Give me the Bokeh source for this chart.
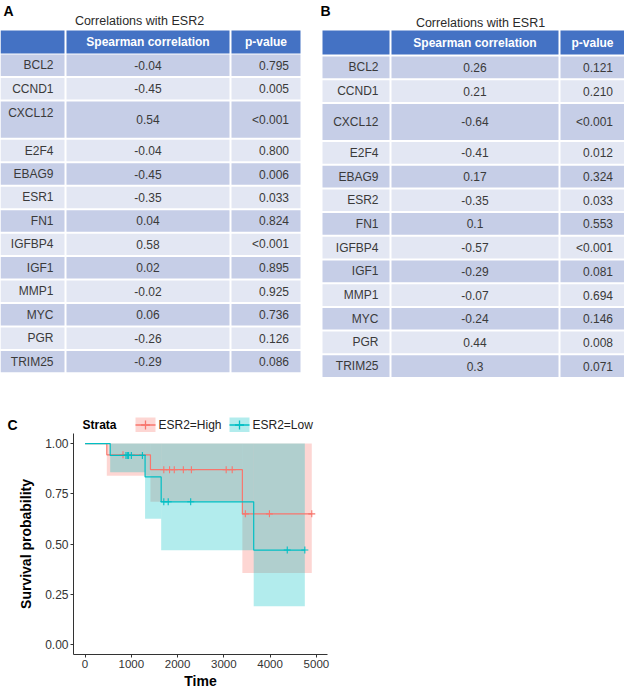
from bokeh.plotting import figure
from bokeh.models import Range1d, FixedTicker, PrintfTickFormatter, ColumnDataSource
from bokeh.core.properties import value
from bokeh.embed import file_html
from bokeh.resources import INLINE

FONT = "Liberation Sans"

# ---------------- data ----------------
title_a = "Correlations with ESR2"
genes_a = ["BCL2", "CCND1", "CXCL12", "E2F4", "EBAG9", "ESR1", "FN1",
           "IGFBP4", "IGF1", "MMP1", "MYC", "PGR", "TRIM25"]
rho_a = [-0.04, -0.45, 0.54, -0.04, -0.45, -0.35, 0.04, 0.58, 0.02, -0.02, 0.06, -0.26, -0.29]
pval_a = ["0.795", "0.005", "<0.001", "0.800", "0.006", "0.033", "0.824",
          "<0.001", "0.895", "0.925", "0.736", "0.126", "0.086"]

title_b = "Correlations with ESR1"
genes_b = ["BCL2", "CCND1", "CXCL12", "E2F4", "EBAG9", "ESR2", "FN1",
           "IGFBP4", "IGF1", "MMP1", "MYC", "PGR", "TRIM25"]
rho_b = [0.26, 0.21, -0.64, -0.41, 0.17, -0.35, 0.1, -0.57, -0.29, -0.07, -0.24, 0.44, 0.3]
pval_b = ["0.121", "0.210", "<0.001", "0.012", "0.324", "0.033", "0.553",
          "<0.001", "0.081", "0.694", "0.146", "0.008", "0.071"]

col_headers = ["", "Spearman correlation", "p-value"]

# Kaplan-Meier (ESR2 strata)
strata_labels = ["ESR2=High", "ESR2=Low"]
high_times = [0, 470, 1413, 3400, 4900]
high_surv = [1.0, 0.944, 0.870, 0.650]
high_lower = [1.0, 0.840, 0.710, 0.356]
high_upper = [1.0, 1.0, 1.0, 1.0]
high_censor = [820, 1702, 1826, 1928, 2124, 2298, 3050, 3180, 3465, 3985, 4900]

low_times = [0, 543, 1297, 1645, 3645, 4750]
low_surv = [1.0, 0.941, 0.834, 0.710, 0.470]
low_lower = [1.0, 0.857, 0.626, 0.469, 0.190]
low_upper = [1.0, 1.0, 1.0, 1.0, 1.0]
low_censor = [884, 913, 941, 1000, 1239, 1702, 1797, 2283, 4370, 4750]

x_ticks = [0, 1000, 2000, 3000, 4000, 5000]
y_ticks = [0.0, 0.25, 0.5, 0.75, 1.0]

# ---------------- styles ----------------
HEAD = "#4472C4"
DARK = "#C6CEE7"
LIGHT = "#E3E7F3"
TXT = "#3A3A3A"
RED = "#F8766D"
TEAL = "#00BFC4"

TOP_H = 432  # height of the tables panel (page pixels)

# ---------------- tables figure (coords = page pixels) ----------------
pt = figure(width=624, height=TOP_H, x_range=Range1d(0, 624), y_range=Range1d(TOP_H, 0),
            x_axis_type=None, y_axis_type=None, toolbar_location=None,
            output_backend="svg", min_border=0, outline_line_color=None)
pt.background_fill_color = "white"
pt.border_fill_color = "white"

TALL_ROWS = {"CXCL12"}


def draw_table(p, cols, head, top0, pitch, tall_extra, genes, rho, pval,
               title, title_pos, tall_label_top):
    gap = 2
    h = pitch - gap
    p.quad(left=[c[0] for c in cols], right=[c[1] for c in cols],
           top=[head[0]] * 3, bottom=[head[1]] * 3,
           fill_color=HEAD, line_color=None)
    hy = (head[0] + head[1]) / 2
    p.text(x=[(cols[1][0] + cols[1][1]) / 2, (cols[2][0] + cols[2][1]) / 2],
           y=[hy, hy], text=col_headers[1:], text_color="white",
           text_font=value(FONT), text_font_style="bold", text_font_size="12px",
           text_align="center", text_baseline="middle")
    L, R, T, B, C = [], [], [], [], []
    gx, gy, rx, ry, px, py = [], [], [], [], [], []
    y = top0
    for i, g in enumerate(genes):
        hh = h + (tall_extra if g in TALL_ROWS else 0)
        fill = DARK if i % 2 == 0 else LIGHT
        for c in cols:
            L.append(c[0]); R.append(c[1]); T.append(y); B.append(y + hh); C.append(fill)
        cy = y + hh / 2
        gx.append(cols[0][1] - 11)
        gy.append(y + 12 if (g in TALL_ROWS and tall_label_top) else cy)
        rx.append((cols[1][0] + cols[1][1]) / 2); ry.append(cy)
        px.append(cols[2][1] - 11.5); py.append(cy)
        y += hh + gap
    p.quad(left=L, right=R, top=T, bottom=B, fill_color=C, line_color=None)
    common = dict(text_color=TXT, text_font=value(FONT), text_font_size="12px",
                  text_baseline="middle")
    p.text(x=gx, y=gy, text=genes, text_align="right", **common)
    p.text(x=rx, y=ry, text=[str(r) for r in rho], text_align="center", **common)
    p.text(x=px, y=py, text=pval, text_align="right", **common)
    p.text(x=[title_pos[0]], y=[title_pos[1]], text=[title], text_align="center",
           text_color="#2A2A2A", text_font=value(FONT), text_font_size="12.5px",
           text_baseline="middle")


draw_table(pt, [(0, 64), (66, 229), (231, 300)], (30, 53), 54, 23.45, 15,
           genes_a, rho_a, pval_a, title_a, (139, 20), True)
draw_table(pt, [(322, 389), (391, 558), (560, 624)], (30, 54), 56, 23.7, 14.4,
           genes_b, rho_b, pval_b, title_b, (480, 22), False)

# panel letters
pt.text(x=[3, 320, 7], y=[2, 2, 424], text=["A", "B", "C"], text_color="black",
        text_font=value(FONT), text_font_style="bold", text_font_size="14px",
        text_align="left", text_baseline=["top", "top", "middle"])

# legend for panel C (drawn just above the survival plot)
pt.text(x=[82], y=[424], text=["Strata"], text_color="black", text_font=value(FONT),
        text_font_style="bold", text_font_size="12px", text_align="left",
        text_baseline="middle")
key_left = [135, 229]
key_cols = [RED, TEAL]
pt.quad(left=key_left, right=[k + 20 for k in key_left], top=[417, 417], bottom=[432, 432],
        fill_color=key_cols, fill_alpha=0.3, line_color=None)
pt.segment(x0=key_left, x1=[k + 20 for k in key_left], y0=[424.5, 424.5], y1=[424.5, 424.5],
           line_color=key_cols, line_width=1.3)
pt.scatter(x=[k + 10 for k in key_left], y=[424.5, 424.5], marker="cross", size=9,
           line_color=key_cols, line_width=1.3)
pt.text(x=[k + 23 for k in key_left], y=[424, 424], text=strata_labels, text_color="#222222",
        text_font=value(FONT), text_font_size="12px", text_align="left",
        text_baseline="middle")

# ---------------- survival figure ----------------
pk = figure(width=624, height=691 - TOP_H, x_range=Range1d(-250, 5240),
            y_range=Range1d(-0.05, 1.05),
            toolbar_location=None, output_backend="svg",
            min_border_left=73, min_border_right=297, min_border_top=1, min_border_bottom=36,
            outline_line_color=None)
pk.background_fill_color = "white"
pk.border_fill_color = "white"
pk.grid.visible = False


def surv_at(times, surv, t):
    idx = max(i for i in range(len(surv)) if times[i] <= t)
    return surv[idx]


for times, surv, lo, hi, col in [(high_times, high_surv, high_lower, high_upper, RED),
                                 (low_times, low_surv, low_lower, low_upper, TEAL)]:
    src = ColumnDataSource(dict(left=times[:-1], right=times[1:], bottom=lo, top=hi))
    pk.quad(left="left", right="right", bottom="bottom", top="top", source=src,
            fill_color=col, fill_alpha=0.3, line_color=None)

for times, surv, cens, col in [(high_times, high_surv, high_censor, RED),
                               (low_times, low_surv, low_censor, TEAL)]:
    pk.step(x=times, y=surv + [surv[-1]], mode="after", line_color=col, line_width=1.2)
    pk.scatter(x=cens, y=[surv_at(times, surv, t) for t in cens], marker="cross",
               size=7, line_color=col, line_width=1.1)

pk.xaxis.ticker = FixedTicker(ticks=x_ticks)
pk.yaxis.ticker = FixedTicker(ticks=y_ticks)
pk.yaxis.formatter = PrintfTickFormatter(format="%.2f")
pk.xaxis.axis_label = "Time"
pk.yaxis.axis_label = "Survival probability"
for ax in pk.axis:
    ax.axis_line_color = "#333333"
    ax.axis_line_width = 1
    ax.major_tick_line_color = "#333333"
    ax.major_tick_in = 0
    ax.major_tick_out = 3
    ax.minor_tick_line_color = None
    ax.major_label_text_font = FONT
    ax.major_label_text_font_size = "12px"
    ax.major_label_text_color = "#333333"
    ax.major_label_standoff = 2
    ax.axis_label_text_font = FONT
    ax.axis_label_text_font_size = "14px"
    ax.axis_label_text_font_style = "bold"
    ax.axis_label_text_color = "black"
pk.xaxis.major_label_text_font_size = "11.5px"
pk.xaxis.axis_label_standoff = 2
pk.yaxis.axis_label_standoff = 8

open("out.html", "w").write(file_html([pt, pk], INLINE))
